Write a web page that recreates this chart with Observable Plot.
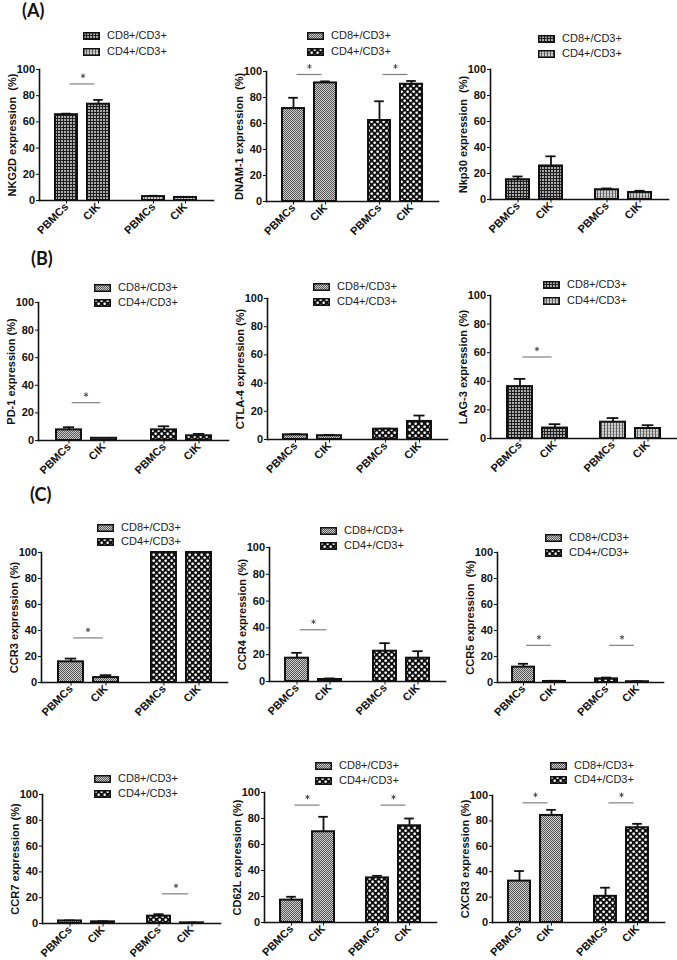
<!DOCTYPE html>
<html><head><meta charset="utf-8">
<script src="https://cdn.jsdelivr.net/npm/d3@7"></script>
<script src="https://cdn.jsdelivr.net/npm/@observablehq/plot@0.6"></script>
<style>
html,body{margin:0;padding:0;background:#fff;}
#root{position:relative;width:677px;height:960px;overflow:hidden;font-family:"Liberation Sans",Arial,sans-serif;color:#111;}
.panel{position:absolute;}
.panel svg{overflow:visible;max-width:none;}
.tag{position:absolute;font-family:Lato,"Open Sans",sans-serif;font-weight:bold;font-size:18px;line-height:1;}
.legrow{position:absolute;font-size:11px;line-height:14px;height:14px;white-space:nowrap;color:#222;}
.legrow svg{vertical-align:-1px;margin-right:7px;}
</style></head><body>
<svg width="0" height="0" style="position:absolute"><defs>
<pattern id="gridDark" width="3" height="3" patternUnits="userSpaceOnUse">
<rect width="3" height="3" fill="#ababab"/><path d="M0 0.5H3M0.5 0V3" stroke="#1e1e1e" stroke-width="1"/></pattern>
<pattern id="gridLight" width="3" height="3" patternUnits="userSpaceOnUse">
<rect width="3" height="3" fill="#cfcfcf"/><path d="M0 0.5H3" stroke="#a8a8a8" stroke-width="1"/><path d="M0.5 0V3" stroke="#5e5e5e" stroke-width="1"/></pattern>
<pattern id="checkFine" width="2" height="2" patternUnits="userSpaceOnUse">
<rect width="2" height="2" fill="#cfcfcf"/><rect width="1" height="1" fill="#555"/><rect x="1" y="1" width="1" height="1" fill="#555"/></pattern>
<pattern id="checkBold" width="6" height="6" patternUnits="userSpaceOnUse">
<rect width="6" height="6" fill="#111"/><rect x="0.4" y="0.4" width="2.5" height="2.5" rx="0.8" fill="#fff"/><rect x="3.4" y="3.4" width="2.5" height="2.5" rx="0.8" fill="#fff"/></pattern>
</defs></svg>
<div id="root"></div>
<script>
// ---- data ----
const groups = ["CD8+/CD3+", "CD4+/CD3+"];
const conditions = ["PBMCs", "CIK"];
// value order: CD8 PBMCs, CD8 CIK, CD4 PBMCs, CD4 CIK
const nkg2dMean = [65.5, 73.5, 3, 2.3];
const nkg2dSem  = [0.8, 3.3, 0.6, 0.5];
const nkg2dSig  = [89, null];
const dnam1Mean = [71.5, 91.2, 62.3, 90.2];
const dnam1Sem  = [8.3, 1.2, 14.8, 2.5];
const dnam1Sig  = [97.7, 97.7];
const nkp30Mean = [15.2, 25.8, 7.5, 5.4];
const nkp30Sem  = [2.5, 7.4, 1, 1.3];
const nkp30Sig  = [null, null];
const pd1Mean = [7.7, 1.6, 7.7, 3.4];
const pd1Sem  = [1.9, 0.3, 2.6, 1.4];
const pd1Sig  = [27.4, null];
const ctla4Mean = [3.3, 2.7, 7.3, 12.8];
const ctla4Sem  = [0.5, 0.6, 0.4, 4.2];
const ctla4Sig  = [null, null];
const lag3Mean = [36.3, 7.3, 11.4, 7];
const lag3Sem  = [5.4, 2.7, 2.9, 2.3];
const lag3Sig  = [57, null];
const ccr3Mean = [15.9, 3.8, 100, 100];
const ccr3Sem  = [2.5, 1.8, 0, 0];
const ccr3Sig  = [34.3, null];
const ccr4Mean = [17.4, 1.5, 22.6, 17.4];
const ccr4Sem  = [4, 0.8, 6, 5.2];
const ccr4Sig  = [38.6, null];
const ccr5Mean = [11.8, 0.8, 2.8, 0.6];
const ccr5Sem  = [2.6, 0.5, 1, 0.4];
const ccr5Sig  = [28.6, 28.6];
const ccr7Mean = [2, 1.3, 5.7, 0.5];
const ccr7Sem  = [0.4, 0.5, 1.5, 0.2];
const ccr7Sig  = [null, 23];
const cd62lMean = [17.2, 69.8, 34.3, 74.4];
const cd62lSem  = [2.6, 11.5, 1.6, 5.6];
const cd62lSig  = [90.3, 90.3];
const cxcr3Mean = [32.6, 84.3, 20.6, 74.6];
const cxcr3Sem  = [7.9, 4.4, 6.8, 3.1];
const cxcr3Sig  = [94.2, 94.2];
const yTicks = [0, 20, 40, 60, 80, 100];

// ---- layout (page positions of each panel) ----
const gridFills = ["gridDark", "gridLight"];
const checkFills = ["checkFine", "checkBold"];
const panels = [
  {label:"NKG2D expression \u00a0(%)", mean:nkg2dMean, sem:nkg2dSem, sig:nkg2dSig, axisX:38, y100:69, y0:200, right:213, fills:gridFills, leg:[83,35,51]},
  {label:"DNAM-1 expression \u00a0(%)", mean:dnam1Mean, sem:dnam1Sem, sig:dnam1Sig, axisX:265, y100:71, y0:201, right:438, fills:checkFills, leg:[307,35,51]},
  {label:"Nkp30 expression \u00a0(%)", mean:nkp30Mean, sem:nkp30Sem, sig:nkp30Sig, axisX:489, y100:69, y0:199, right:668, fills:gridFills, leg:[538,38,53]},
  {label:"PD-1 expression (%)", mean:pd1Mean, sem:pd1Sem, sig:pd1Sig, axisX:37, y100:302, y0:440, right:228, fills:checkFills, leg:[94,287,302]},
  {label:"CTLA-4 expression (%)", mean:ctla4Mean, sem:ctla4Sem, sig:ctla4Sig, axisX:267, y100:298, y0:439, right:447, fills:checkFills, leg:[313,286,301]},
  {label:"LAG-3 expression (%)", mean:lag3Mean, sem:lag3Sem, sig:lag3Sig, axisX:490, y100:295, y0:438, right:676, fills:gridFills, leg:[543,284,300]},
  {label:"CCR3 expression (%)", mean:ccr3Mean, sem:ccr3Sem, sig:ccr3Sig, axisX:40, y100:552, y0:682, right:227, fills:checkFills, leg:[97,527,541]},
  {label:"CCR4 expression (%)", mean:ccr4Mean, sem:ccr4Sem, sig:ccr4Sig, axisX:268, y100:547, y0:681, right:445, fills:checkFills, leg:[320,530,545]},
  {label:"CCR5 expression \u00a0(%)", mean:ccr5Mean, sem:ccr5Sem, sig:ccr5Sig, axisX:496, y100:552, y0:682, right:663, fills:checkFills, leg:[545,537,552]},
  {label:"CCR7 expression (%)", mean:ccr7Mean, sem:ccr7Sem, sig:ccr7Sig, axisX:41, y100:794, y0:923, right:220, fills:checkFills, leg:[94,778,793]},
  {label:"CD62L expression (%)", mean:cd62lMean, sem:cd62lSem, sig:cd62lSig, axisX:263, y100:792, y0:922, right:436, fills:checkFills, leg:[315,765,780]},
  {label:"CXCR3 expression (%)", mean:cxcr3Mean, sem:cxcr3Sem, sig:cxcr3Sig, axisX:492, y100:795, y0:922, right:664, fills:checkFills, leg:[550,765,779]}
];
const tags = [{t:"(A)", x:22, y:1}, {t:"(B)", x:31, y:249}, {t:"(C)", x:30, y:485}];

const root = document.getElementById("root");
const ML = 45, MT = 14, MB = 46, MR = 2;
const FX_PAD_OUT = 0, FX_PAD_IN = 0.0, X_PAD_IN = 0.3, X_PAD_OUT = 0.47;

function makePanel(cfg) {
  const rows = [];
  groups.forEach((g, gi) => conditions.forEach((c, ci) => {
    const k = gi * 2 + ci;
    rows.push({group: g, cond: c, mean: cfg.mean[k], sem: cfg.sem[k]});
  }));
  const sig = groups.map((g, gi) => ({group: g, y: cfg.sig[gi]})).filter(d => d.y != null);
  const width = cfg.right - cfg.axisX + ML + MR;
  const height = cfg.y0 - cfg.y100 + MT + MB;
  const inner = width - ML - MR;
  const facetW = inner / 2;
  const step = facetW / (2 - X_PAD_IN + 2 * X_PAD_OUT);
  const bw = step * (1 - X_PAD_IN);
  const svg = Plot.plot({
    width, height, marginLeft: ML, marginTop: MT, marginBottom: MB, marginRight: MR,
    style: {fontFamily: '"Liberation Sans", Arial, sans-serif', fontSize: "11px", fontWeight: "bold", color: "#111", overflow: "visible", background: "none"},
    fx: {domain: groups, axis: null, label: null, paddingInner: FX_PAD_IN, paddingOuter: FX_PAD_OUT},
    x: {domain: conditions, paddingInner: X_PAD_IN, paddingOuter: X_PAD_OUT, tickSize: 3.5, tickRotate: -45, tickPadding: 1, label: null},
    y: {domain: [0, 100], ticks: yTicks, tickSize: 3, tickPadding: 1.5, label: cfg.label, labelAnchor: "center", labelOffset: 31, labelArrow: "none"},
    color: {domain: groups, range: cfg.fills.map(f => `url(#${f})`)},
    marks: [
      Plot.ruleX(rows, {fx: "group", x: "cond", y1: "mean", y2: d => d.mean + d.sem, stroke: "#111", strokeWidth: 1.8}),
      Plot.tickY(rows.filter(d => d.sem > 0), {fx: "group", x: "cond", y: d => d.mean + d.sem, stroke: "#111", strokeWidth: 1.8, insetLeft: bw * 0.27, insetRight: bw * 0.27}),
      Plot.barY(rows, {fx: "group", x: "cond", y: "mean", fill: "group", stroke: "#111", strokeWidth: 2}),
      Plot.ruleY(sig, {fx: "group", y: "y", x1: () => conditions[0], x2: () => conditions[1], insetLeft: bw / 2 + 3, insetRight: bw / 2 + 3, stroke: "#808080", strokeWidth: 1.2}),
      Plot.dot(sig, {fx: "group", y: "y", symbol: "asterisk", r: 2.2, dy: -8, stroke: "#444", strokeWidth: 0.9}),
      Plot.frame({anchor: "left", facet: "super", stroke: "#111", strokeWidth: 1.6}),
      Plot.frame({anchor: "bottom", facet: "super", stroke: "#111", strokeWidth: 1.6})
    ]
  });
  const div = document.createElement("div");
  div.className = "panel";
  div.style.left = (cfg.axisX - ML) + "px";
  div.style.top = (cfg.y100 - MT) + "px";
  div.appendChild(svg);
  root.appendChild(div);

  // legend
  groups.forEach((g, gi) => {
    const row = document.createElement("div");
    row.className = "legrow";
    row.style.left = cfg.leg[0] + "px";
    row.style.top = (cfg.leg[gi + 1] - 7) + "px";
    row.innerHTML = `<svg width="17" height="8"><rect x="0.75" y="0.75" width="15.5" height="6.5" fill="url(#${cfg.fills[gi]})" stroke="#111" stroke-width="1.5"/></svg>${g}`;
    root.appendChild(row);
  });
}

panels.forEach(makePanel);
tags.forEach(t => {
  const d = document.createElement("div");
  d.className = "tag";
  d.style.left = t.x + "px";
  d.style.top = t.y + "px";
  d.textContent = t.t;
  root.appendChild(d);
});
</script>
</body></html>
